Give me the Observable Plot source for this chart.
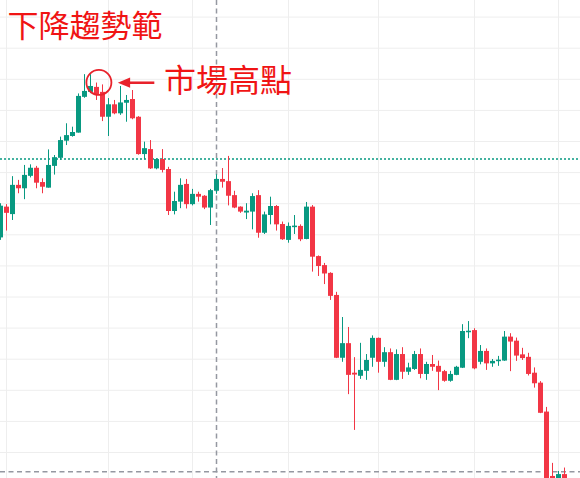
<!DOCTYPE html>
<html>
<head>
<meta charset="utf-8">
<script src="https://cdn.jsdelivr.net/npm/d3@7"></script>
<script src="https://cdn.jsdelivr.net/npm/@observablehq/plot@0.6"></script>
<style>
  html, body { margin: 0; padding: 0; background: #ffffff; }
  #chart svg { display: block; }
</style>
</head>
<body>
<div id="chart"></div>
<script>
// Daily OHLC prices, one entry per session (oldest first).
const open = [
  79.0, 88.9, 86.5, 95.9, 94.8, 98.8, 101.4, 96.8, 95.0, 102.0,
  104.6, 110.1, 111.6, 112.7, 124.2, 125.8, 127.4, 125.8, 117.8, 121.8,
  118.9, 122.3, 123.5, 117.8, 105.8, 107.4, 101.2, 104.2, 101.0, 87.5,
  90.5, 96.2, 89.7, 93.0, 92.4, 88.6, 94.0, 97.8, 97.1, 92.6,
  88.9, 87.0, 87.3, 92.6, 80.5, 86.2, 89.1, 83.3, 78.2, 82.3,
  82.7, 78.5, 88.9, 73.0, 70.1, 67.6, 60.5, 40.3, 45.0, 35.5,
  34.5, 36.1, 40.3, 46.7, 39.0, 42.1, 33.2, 41.5, 35.8, 36.7,
  41.5, 35.1, 38.3, 37.7, 36.0, 32.9, 34.8, 37.1, 48.5, 49.2,
  39.0, 42.5, 38.5, 39.2, 39.4, 47.1, 45.8, 41.4, 40.6, 35.5,
  32.3, 23.0, 2.3, -1.5, 2.9
];
const high = [
  90.0, 89.7, 98.7, 97.5, 102.3, 102.5, 102.0, 98.0, 107.3, 105.5,
  111.4, 115.7, 114.6, 125.3, 131.5, 131.5, 128.8, 128.2, 123.8, 123.2,
  127.7, 124.8, 126.4, 118.0, 109.8, 110.3, 104.4, 107.4, 101.7, 93.7,
  98.0, 97.8, 94.6, 93.7, 92.6, 94.6, 99.3, 101.3, 105.2, 94.0,
  89.0, 90.0, 93.2, 94.2, 87.3, 92.1, 89.4, 84.1, 83.8, 86.2,
  83.2, 90.4, 89.4, 73.2, 70.8, 67.8, 61.5, 53.4, 50.2, 40.5,
  45.1, 41.5, 47.5, 46.8, 43.7, 43.3, 43.0, 43.7, 38.7, 42.5,
  43.3, 39.0, 41.2, 39.4, 36.4, 36.1, 37.7, 51.1, 52.1, 49.8,
  44.4, 43.3, 39.9, 40.9, 48.9, 48.2, 46.8, 43.5, 41.9, 37.2,
  32.8, 24.5, 6.5, 3.9, 5.0
];
const low = [
  78.2, 81.2, 84.6, 93.2, 91.3, 98.3, 94.8, 93.2, 95.0, 99.2,
  103.9, 108.7, 111.4, 112.7, 123.9, 125.4, 123.2, 116.4, 111.6, 118.6,
  118.4, 116.2, 117.0, 105.6, 104.1, 101.0, 100.9, 99.9, 86.2, 86.4,
  88.4, 88.3, 89.3, 90.5, 88.1, 83.0, 93.0, 95.0, 89.3, 88.4,
  86.9, 84.9, 81.6, 78.9, 80.1, 83.2, 81.2, 78.2, 77.3, 80.1,
  77.8, 78.4, 68.0, 66.6, 64.0, 58.9, 40.2, 39.0, 28.6, 17.1,
  33.5, 33.2, 37.4, 35.5, 37.4, 33.1, 33.1, 33.5, 34.8, 36.4,
  33.7, 33.2, 36.1, 29.9, 32.6, 32.6, 34.7, 37.0, 46.6, 36.6,
  38.2, 36.4, 37.4, 37.7, 39.3, 36.0, 39.3, 39.6, 34.6, 30.7,
  22.5, -3.8, -3.5, -3.5, -3.5
];
const close = [
  89.2, 86.9, 95.9, 94.8, 99.1, 101.4, 96.6, 95.3, 102.3, 104.8,
  110.3, 111.9, 112.9, 124.5, 126.1, 127.7, 125.1, 117.8, 121.8, 118.9,
  122.4, 123.2, 117.3, 105.8, 107.7, 101.2, 104.2, 100.7, 87.5, 90.7,
  95.9, 89.7, 93.0, 92.1, 88.6, 94.2, 97.8, 96.9, 92.4, 88.6,
  87.3, 87.6, 92.3, 80.5, 86.4, 89.1, 83.2, 78.4, 82.7, 82.8,
  78.4, 88.9, 72.8, 69.8, 67.4, 60.2, 40.3, 45.0, 34.8, 34.9,
  36.4, 39.6, 46.7, 39.0, 42.1, 33.2, 41.5, 35.8, 37.2, 41.5,
  35.1, 38.3, 37.4, 35.8, 32.9, 35.1, 37.4, 48.9, 49.0, 36.9,
  42.5, 38.5, 39.3, 39.7, 47.1, 45.5, 41.0, 40.2, 35.1, 32.1,
  22.6, -1.6, -1.0, 2.9, -1.2
];

// Background grid: price levels and session boundaries.
const gridPrices = [10, 20, 30, 40, 50, 60, 70, 80, 90, 100, 110, 120, 130, 140, 150];
const gridSessions = [1, 18, 32, 48, 63, 79, 93];

// Reference levels: dotted price line and the dashed crosshair.
const referencePrice = [104.4];
const crosshairPrice = [3.8];
const crosshairSession = [36];

// Texts and the market-top annotation.
const titleText = "下降趨勢範";
const peakLabel = "市場高點";
const peakCircle = [{i: 16.4, price: 129.0}];
const arrowShaft = [{i1: 21.3, i2: 25.72, price: 128.9}];
const arrowHead = [
  {i: 19.55, price: 128.9},
  {i: 21.6, price: 130.55},
  {i: 21.6, price: 127.25}
];
const labelAnchor = [{i: 27.23, price: 129.2, text: peakLabel}];

const UP = "#089981";
const DOWN = "#f23645";
const TEXT_RED = "#f01414";
const NOTE_RED = "#e8222b";
const CJK = "'Noto Sans CJK TC', 'Noto Sans CJK SC', sans-serif";

const candles = open.map((o, i) => ({
  i, open: o, high: high[i], low: low[i], close: close[i],
  color: close[i] >= o ? UP : DOWN
}));

const chart = Plot.plot({
  width: 580,
  height: 478,
  margin: 0,
  x: {type: "linear", domain: [0, 580 / 6], axis: null},
  y: {type: "linear", domain: [1.64, 155.34], axis: null},
  color: {type: "identity"},
  style: {background: "#ffffff"},
  marks: [
    Plot.ruleY(gridPrices, {stroke: "#eeeeee", strokeWidth: 1}),
    Plot.ruleX(gridSessions, {stroke: "#eeeeee", strokeWidth: 1}),
    Plot.ruleY(referencePrice, {stroke: UP, strokeWidth: 1.5, strokeDasharray: "2,2"}),
    Plot.ruleX(crosshairSession, {stroke: "#9598a1", strokeWidth: 1.5, strokeDasharray: "5,3.5"}),
    Plot.ruleY(crosshairPrice, {stroke: "#9598a1", strokeWidth: 1.5, strokeDasharray: "5,3.5"}),
    // wicks
    Plot.ruleX(candles, {x: "i", y1: "low", y2: "high", stroke: "color", strokeWidth: 1, clip: true}),
    // bodies
    Plot.ruleX(candles, {x: "i", y1: "open", y2: "close", stroke: "color", strokeWidth: 5, clip: true}),
    // title
    Plot.text([titleText], {
      text: d => d, frameAnchor: "top-left", textAnchor: "start", lineAnchor: "top",
      dx: 7, dy: 14, fontSize: 31, fill: TEXT_RED, fontFamily: CJK
    }),
    // market-top annotation
    Plot.dot(peakCircle, {x: "i", y: "price", r: 12.5, stroke: NOTE_RED, strokeWidth: 1.8, fill: "none"}),
    Plot.ruleY(arrowShaft, {y: "price", x1: "i1", x2: "i2", stroke: NOTE_RED, strokeWidth: 2.5}),
    Plot.line(arrowHead, {x: "i", y: "price", fill: NOTE_RED, stroke: "none"}),
    Plot.text(labelAnchor, {
      x: "i", y: "price", text: "text", textAnchor: "start", lineAnchor: "middle",
      fontSize: 32, fill: TEXT_RED, fontFamily: CJK
    })
  ]
});

document.getElementById("chart").appendChild(chart);
</script>
</body>
</html>
